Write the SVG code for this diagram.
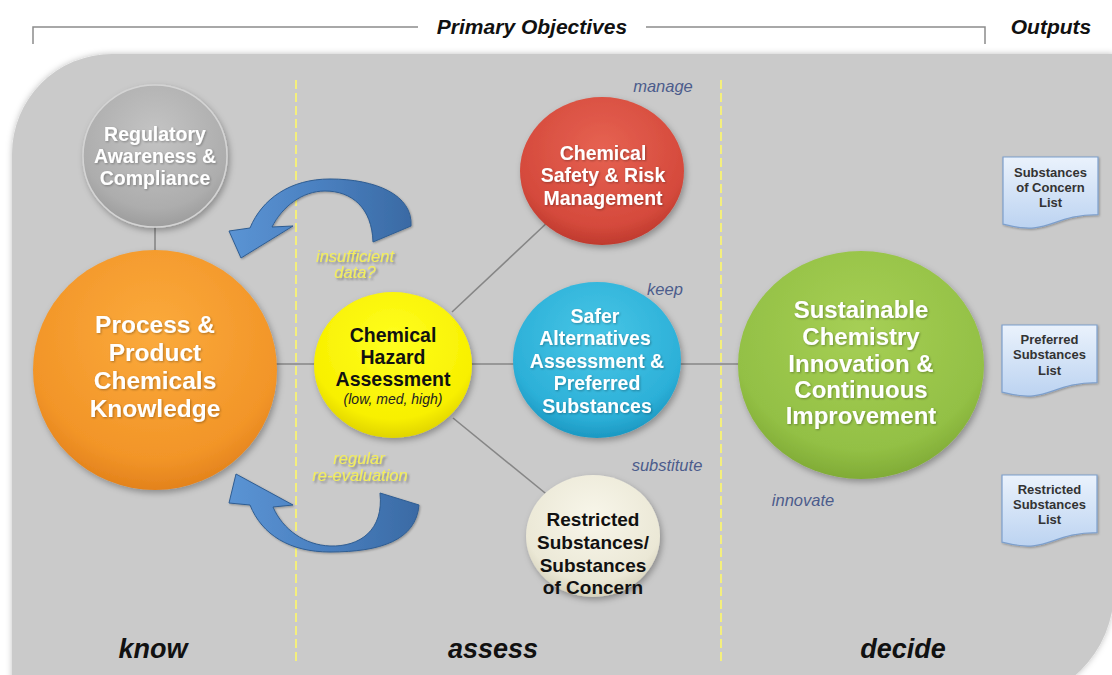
<svg xmlns="http://www.w3.org/2000/svg" width="1112" height="675" viewBox="0 0 1112 675">
  <style>
    text { font-family: "Liberation Sans", Arial, sans-serif; text-anchor: middle; }
    .hdr { font-size: 21px; font-weight: bold; font-style: italic; fill: #111; }
    .phase { font-size: 27px; font-weight: bold; font-style: italic; fill: #111; }
    .rule { stroke: #8c8c8c; stroke-width: 1.5; fill: none; }
    .divider { stroke: #f4ef7c; stroke-width: 2; stroke-dasharray: 9 4; fill: none; }
    .link { stroke: #868686; stroke-width: 1.6; fill: none; }
    .wt { fill: #ffffff; font-weight: bold; }
    .bk { fill: #111111; font-weight: bold; }
    .verb { font-size: 16.5px; font-style: italic; fill: #4c5c8c; }
    .note { font-size: 16.5px; font-style: italic; fill: #f3ee5c; }
    .doc { stroke: #7d9fcc; stroke-width: 1.2; fill: url(#docFill); }
    .doctxt { font-size: 13px; font-weight: bold; fill: #333; }
    .loop { fill: url(#loopFill); stroke: #2f5d92; stroke-width: 1; }
  </style>
  <defs>
    <filter id="shadow" x="-20%" y="-20%" width="140%" height="140%">
      <feDropShadow dx="2" dy="3" stdDeviation="3" flood-color="#000" flood-opacity="0.3"/>
    </filter>
    <filter id="txtShadow" x="-10%" y="-10%" width="120%" height="120%">
      <feDropShadow dx="1" dy="1" stdDeviation="0.8" flood-color="#000" flood-opacity="0.3"/>
    </filter>
    <filter id="noteShadow" x="-10%" y="-30%" width="125%" height="170%">
      <feDropShadow dx="2" dy="2" stdDeviation="1.3" flood-color="#555" flood-opacity="0.6"/>
    </filter>
    <filter id="soft" x="-5%" y="-5%" width="110%" height="110%">
      <feDropShadow dx="0" dy="0" stdDeviation="3" flood-color="#000" flood-opacity="0.25"/>
    </filter>
    <radialGradient id="gGray" cx="50%" cy="35%" r="65%">
      <stop offset="0" stop-color="#c4c4c4"/>
      <stop offset="0.8" stop-color="#adadad"/>
      <stop offset="1" stop-color="#9d9d9d"/>
    </radialGradient>
    <radialGradient id="gOrange" cx="50%" cy="35%" r="65%">
      <stop offset="0" stop-color="#fbaa3c"/>
      <stop offset="0.8" stop-color="#f29528"/>
      <stop offset="1" stop-color="#e3821c"/>
    </radialGradient>
    <radialGradient id="gYellow" cx="50%" cy="35%" r="65%">
      <stop offset="0" stop-color="#ffff20"/>
      <stop offset="0.8" stop-color="#f8f000"/>
      <stop offset="1" stop-color="#e0d400"/>
    </radialGradient>
    <radialGradient id="gRed" cx="50%" cy="35%" r="65%">
      <stop offset="0" stop-color="#e66252"/>
      <stop offset="0.8" stop-color="#d54a3c"/>
      <stop offset="1" stop-color="#bf3a2e"/>
    </radialGradient>
    <radialGradient id="gBlue" cx="50%" cy="35%" r="65%">
      <stop offset="0" stop-color="#48c6e6"/>
      <stop offset="0.8" stop-color="#2cb0d8"/>
      <stop offset="1" stop-color="#1c98c2"/>
    </radialGradient>
    <radialGradient id="gGreen" cx="50%" cy="35%" r="65%">
      <stop offset="0" stop-color="#a6cf55"/>
      <stop offset="0.8" stop-color="#93c045"/>
      <stop offset="1" stop-color="#80ab36"/>
    </radialGradient>
    <radialGradient id="gBeige" cx="50%" cy="35%" r="65%">
      <stop offset="0" stop-color="#f8f6ea"/>
      <stop offset="0.8" stop-color="#ebe8d6"/>
      <stop offset="1" stop-color="#d6d2bc"/>
    </radialGradient>
    <linearGradient id="docFill" x1="0" y1="0" x2="0" y2="1">
      <stop offset="0" stop-color="#eaf2fc"/>
      <stop offset="1" stop-color="#bcd3f1"/>
    </linearGradient>
    <linearGradient id="loopFill" x1="0" y1="0" x2="1" y2="0">
      <stop offset="0" stop-color="#5b94d4"/>
      <stop offset="0.5" stop-color="#4a80c0"/>
      <stop offset="1" stop-color="#3a6aa4"/>
    </linearGradient>
  </defs>

  <rect width="1112" height="675" fill="#ffffff"/>

  <!-- grey panel with rounded top-left and bottom-right corners -->
  <path id="panel" d="M12,154 A100,100 0 0 1 112,54 H1114 V590 A114,114 0 0 1 1000,704 H12 Z" fill="#cacaca" filter="url(#soft)"/>

  <!-- header brackets -->
  <g id="header">
    <path class="rule" d="M33,44 V27 H418"/>
    <path class="rule" d="M646,27 H985 V44"/>
    <text class="hdr" x="532" y="34">Primary Objectives</text>
    <text class="hdr" x="1051" y="34">Outputs</text>
  </g>

  <!-- phase dividers -->
  <g id="dividers">
    <line class="divider" x1="296" y1="80" x2="296" y2="664"/>
    <line class="divider" x1="721" y1="80" x2="721" y2="664"/>
  </g>

  <!-- connectors -->
  <g id="connectors">
    <line class="link" x1="155" y1="225" x2="155" y2="252"/>
    <line class="link" x1="275" y1="364" x2="316" y2="364"/>
    <line class="link" x1="468" y1="364" x2="514" y2="364"/>
    <line class="link" x1="680" y1="364" x2="740" y2="364"/>
    <line class="link" x1="452" y1="312" x2="550" y2="220"/>
    <line class="link" x1="453" y1="418" x2="550" y2="497"/>
    <!-- feedback loops back to the knowledge base -->
    <path id="loop-top" class="loop" filter="url(#txtShadow)" d="M411,226 C413,195 376,179 330,179 C290,179 262,199 250,228 L229,231 L241,258 L293,226 L272,227 C282,207 302,191 325,191 C352,191 372,208 373,242 Z"/>
    <path id="loop-bottom" class="loop" filter="url(#txtShadow)" d="M419,505 C416,540 381,552 330,552 C290,552 262,535 250,505 L229,503 L236,474 L293,505 L273,507 C283,530 305,545 330,546 C360,547 384,530 380,493 Z"/>
  </g>

  <!-- nodes -->
  <g id="node-regulatory">
    <ellipse cx="155" cy="156" rx="72" ry="71" fill="url(#gGray)" stroke="#d4d4d4" stroke-width="1.5" filter="url(#shadow)"/>
    <g class="wt" font-size="19.5" filter="url(#txtShadow)">
      <text x="155" y="141">Regulatory</text>
      <text x="155" y="163">Awareness &amp;</text>
      <text x="155" y="185">Compliance</text>
    </g>
  </g>

  <g id="node-knowledge">
    <ellipse cx="155" cy="370" rx="122" ry="120" fill="url(#gOrange)" filter="url(#shadow)"/>
    <g class="wt" font-size="24.5" filter="url(#txtShadow)">
      <text x="155" y="333">Process &amp;</text>
      <text x="155" y="361">Product</text>
      <text x="155" y="389">Chemicals</text>
      <text x="155" y="417">Knowledge</text>
    </g>
  </g>

  <g id="node-hazard">
    <ellipse cx="393" cy="365" rx="79" ry="73" fill="url(#gYellow)" filter="url(#shadow)"/>
    <g class="bk" font-size="19.5">
      <text x="393" y="342">Chemical</text>
      <text x="393" y="364">Hazard</text>
      <text x="393" y="386">Assessment</text>
    </g>
    <text x="393" y="404" font-size="14" font-style="italic" fill="#222">(low, med, high)</text>
  </g>

  <g id="node-safety">
    <ellipse cx="602" cy="171" rx="82" ry="74" fill="url(#gRed)" filter="url(#shadow)"/>
    <g class="wt" font-size="19.5" filter="url(#txtShadow)">
      <text x="603" y="160">Chemical</text>
      <text x="603" y="182">Safety &amp; Risk</text>
      <text x="603" y="205">Management</text>
    </g>
  </g>

  <g id="node-alternatives">
    <ellipse cx="597" cy="360" rx="84" ry="78" fill="url(#gBlue)" filter="url(#shadow)"/>
    <g class="wt" font-size="19.5" filter="url(#txtShadow)">
      <text x="595" y="323">Safer</text>
      <text x="595" y="345">Alternatives</text>
      <text x="597" y="368">Assessment &amp;</text>
      <text x="597" y="390">Preferred</text>
      <text x="597" y="413">Substances</text>
    </g>
  </g>

  <g id="node-sustainable">
    <ellipse cx="861" cy="365" rx="123" ry="114" fill="url(#gGreen)" filter="url(#shadow)"/>
    <g class="wt" font-size="24" filter="url(#txtShadow)">
      <text x="861" y="318">Sustainable</text>
      <text x="861" y="345">Chemistry</text>
      <text x="861" y="372">Innovation &amp;</text>
      <text x="861" y="398">Continuous</text>
      <text x="861" y="424">Improvement</text>
    </g>
  </g>

  <g id="node-restricted">
    <ellipse cx="593" cy="536" rx="67" ry="61" fill="url(#gBeige)" filter="url(#shadow)"/>
    <g class="bk" font-size="19">
      <text x="593" y="526">Restricted</text>
      <text x="593" y="549">Substances/</text>
      <text x="593" y="572">Substances</text>
      <text x="593" y="594">of Concern</text>
    </g>
  </g>

  <!-- action verbs -->
  <g id="verbs">
    <text class="verb" x="663" y="92">manage</text>
    <text class="verb" x="665" y="295">keep</text>
    <text class="verb" x="667" y="471">substitute</text>
    <text class="verb" x="803" y="506">innovate</text>
  </g>

  <!-- loop captions -->
  <g id="loop-notes" filter="url(#noteShadow)">
    <text class="note" x="355" y="262">insufficient</text>
    <text class="note" x="355" y="278">data?</text>
    <text class="note" x="359" y="464">regular</text>
    <text class="note" x="360" y="481">re-evaluation</text>
  </g>

  <!-- output documents -->
  <g id="doc-concern" transform="translate(1003,157)">
    <path class="doc" filter="url(#txtShadow)" d="M0,0 H95 V57.7 C47.5,57.7 47.5,79.7 0,67.2 Z"/>
    <text class="doctxt" x="47.5" y="20">Substances</text>
    <text class="doctxt" x="47.5" y="35">of Concern</text>
    <text class="doctxt" x="47.5" y="50">List</text>
  </g>
  <g id="doc-preferred" transform="translate(1002,325)">
    <path class="doc" filter="url(#txtShadow)" d="M0,0 H95 V57.7 C47.5,57.7 47.5,79.7 0,67.2 Z"/>
    <text class="doctxt" x="47.5" y="19">Preferred</text>
    <text class="doctxt" x="47.5" y="34">Substances</text>
    <text class="doctxt" x="47.5" y="50">List</text>
  </g>
  <g id="doc-restricted" transform="translate(1002,475)">
    <path class="doc" filter="url(#txtShadow)" d="M0,0 H95 V57.7 C47.5,57.7 47.5,79.7 0,67.2 Z"/>
    <text class="doctxt" x="47.5" y="19">Restricted</text>
    <text class="doctxt" x="47.5" y="34">Substances</text>
    <text class="doctxt" x="47.5" y="49">List</text>
  </g>

  <!-- phase labels -->
  <g id="phases">
    <text class="phase" x="153" y="658">know</text>
    <text class="phase" x="493" y="658">assess</text>
    <text class="phase" x="903" y="658">decide</text>
  </g>
</svg>
